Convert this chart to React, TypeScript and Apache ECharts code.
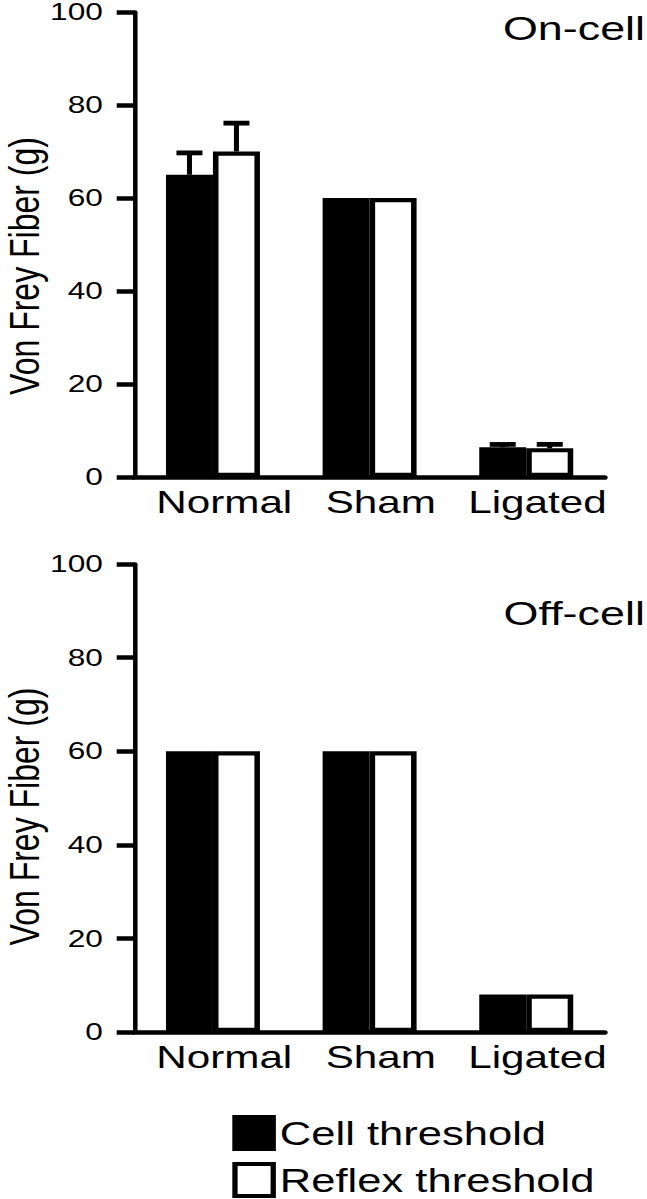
import React, { useEffect, useRef } from 'react';
import * as echarts from 'echarts';

// ---------- data ----------
const categories = ['Normal', 'Sham', 'Ligated'];
const seriesNames = ['Cell threshold', 'Reflex threshold'];
const panelTitles = ['On-cell', 'Off-cell'];
const yAxisTitle = 'Von Frey Fiber (g)';
const yMin = 0;
const yMax = 100;
const yInterval = 20;

const onCellThreshold = [65, 60, 6.4];
const onCellError = [4.7, 0, 0.6];
const onReflexThreshold = [70, 60, 6.2];
const onReflexError = [6.1, 0, 0.8];

const offCellThreshold = [60, 60, 8];
const offReflexThreshold = [60, 60, 8];

// ---------- layout (the figure is horizontally stretched) ----------
const S = 1.32;
const W = 647 / S;
const H = 1199;
const CH = 1260; // chart canvas taller than the page so the legend never wraps
const FONT = "'Liberation Sans', Arial, sans-serif";

const grids = [
  { left: 102, width: 356, top: 8, height: 469 },
  { left: 102, width: 356, top: 564, height: 468 },
];

function errorData(vals: number[], errs: number[], side: number) {
  return vals
    .map((v, i) => [i, v, v + errs[i], side])
    .filter((d) => d[2] > d[1]);
}

const renderError = (params: any, api: any) => {
  const cat = api.value(0);
  const val = api.value(1);
  const top = api.value(2);
  const side = api.value(3);
  const band = api.size([1, 0])[0];
  const base = api.coord([cat, val]);
  const hi = api.coord([cat, top]);
  const x = base[0] + side * band * 0.15;
  const half = band * 0.083;
  return {
    type: 'group',
    children: [
      {
        type: 'line',
        shape: { x1: x, y1: base[1], x2: x, y2: hi[1] },
        style: { stroke: '#000', lineWidth: 3.8 },
      },
      {
        type: 'line',
        shape: { x1: x - half, y1: hi[1], x2: x + half, y2: hi[1] },
        style: { stroke: '#000', lineWidth: 4.8 },
      },
    ],
  };
};

function buildOption() {
  const panels = [
    { cell: onCellThreshold, reflex: onReflexThreshold, cellErr: onCellError, reflexErr: onReflexError },
    { cell: offCellThreshold, reflex: offReflexThreshold, cellErr: null, reflexErr: null },
  ];
  const series: any[] = [];
  panels.forEach((p, i) => {
    series.push({
      type: 'bar',
      name: seriesNames[0],
      xAxisIndex: i,
      yAxisIndex: i,
      data: p.cell,
      barGap: '0%',
      barCategoryGap: '40%',
      itemStyle: { color: '#000', borderColor: '#000', borderWidth: 4.2 },
      silent: true,
    });
    series.push({
      type: 'bar',
      name: seriesNames[1],
      xAxisIndex: i,
      yAxisIndex: i,
      data: p.reflex,
      barGap: '0%',
      barCategoryGap: '40%',
      itemStyle: { color: '#fff', borderColor: '#000', borderWidth: 4.2 },
      silent: true,
    });
    if (p.cellErr && p.reflexErr) {
      series.push({
        type: 'custom',
        xAxisIndex: i,
        yAxisIndex: i,
        z: 5,
        silent: true,
        data: [...errorData(p.cell, p.cellErr, -1), ...errorData(p.reflex, p.reflexErr, 1)],
        renderItem: renderError,
      });
    }
  });

  return {
    animation: false,
    backgroundColor: '#fff',
    grid: grids,
    xAxis: grids.map((_, i) => ({
      type: 'category',
      gridIndex: i,
      data: categories,
      axisLine: { lineStyle: { color: '#000', width: 4.7 } },
      axisTick: { show: false },
      axisLabel: {
        interval: 0,
        color: '#000',
        fontSize: 32,
        fontFamily: FONT,
        margin: 9,
        padding: [0, 0, 0, 17],
      },
    })),
    yAxis: grids.map((_, i) => ({
      type: 'value',
      gridIndex: i,
      min: yMin,
      max: yMax,
      interval: yInterval,
      axisLine: { show: true, lineStyle: { color: '#000', width: 3.4 } },
      axisTick: { show: true, length: 13.6, lineStyle: { color: '#000', width: 4.5 } },
      axisLabel: {
        color: '#000',
        fontSize: 24,
        fontFamily: FONT,
        margin: 24,
        padding: [8, 0, 0, 0],
      },
      splitLine: { show: false },
    })),
    legend: {
      data: seriesNames,
      orient: 'vertical',
      left: 176,
      top: 1115,
      padding: 0,
      itemGap: 11,
      itemWidth: 29,
      itemHeight: 32,
      icon: 'rect',
      selectedMode: false,
      itemStyle: { borderColor: '#000', borderWidth: 4 },
      textStyle: { color: '#000', fontSize: 33, fontFamily: FONT },
    },
    graphic: [
      {
        type: 'text',
        x: 381,
        y: 11,
        style: { text: panelTitles[0], fontSize: 34, fontFamily: FONT, fill: '#000', verticalAlign: 'top' },
      },
      {
        type: 'text',
        x: 381.5,
        y: 596,
        style: { text: panelTitles[1], fontSize: 34, fontFamily: FONT, fill: '#000', verticalAlign: 'top' },
      },
      {
        type: 'text',
        x: 18.5,
        y: 266,
        rotation: Math.PI / 2,
        style: { text: yAxisTitle, fontSize: 32, fontFamily: FONT, fill: '#000', align: 'center', verticalAlign: 'middle' },
      },
      {
        type: 'text',
        x: 18.5,
        y: 816.5,
        rotation: Math.PI / 2,
        style: { text: yAxisTitle, fontSize: 32, fontFamily: FONT, fill: '#000', align: 'center', verticalAlign: 'middle' },
      },
    ],
    series,
  };
}

export default function App() {
  const ref = useRef<HTMLDivElement>(null);
  useEffect(() => {
    if (!ref.current) return;
    const chart = echarts.init(ref.current, undefined, { renderer: 'svg', width: W, height: CH });
    chart.setOption(buildOption() as any);
    return () => chart.dispose();
  }, []);
  return (
    <div
      style={{
        position: 'absolute',
        left: 0,
        top: 0,
        width: 647,
        height: H,
        overflow: 'hidden',
        background: '#fff',
      }}
    >
      <div
        ref={ref}
        style={{ width: W, height: CH, transform: `scaleX(${S})`, transformOrigin: '0 0' }}
      />
    </div>
  );
}
